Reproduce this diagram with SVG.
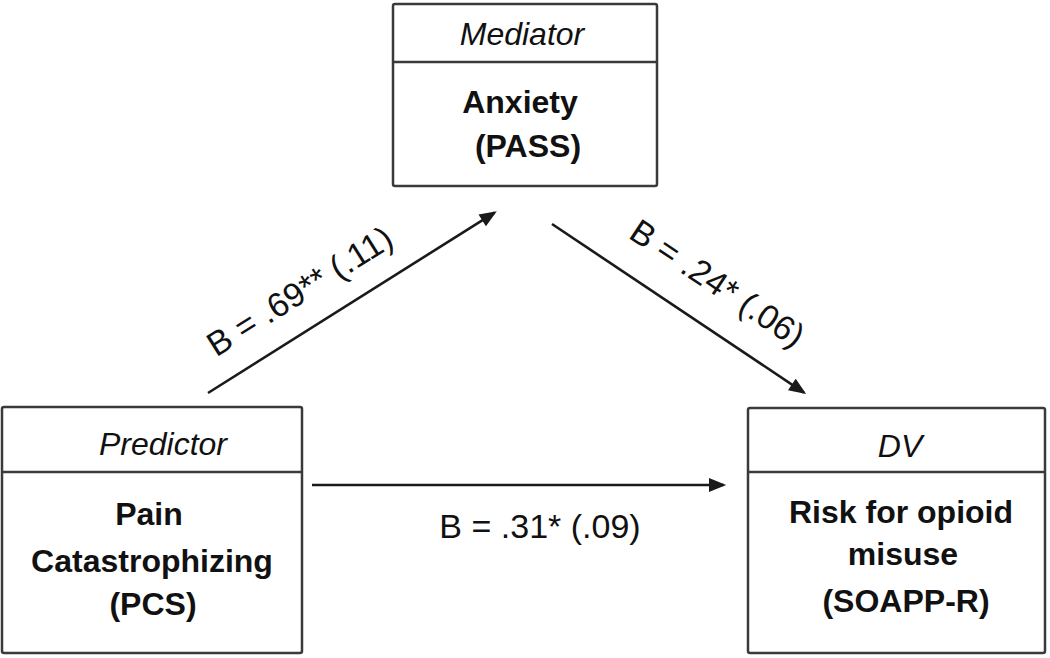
<svg xmlns="http://www.w3.org/2000/svg" width="1050" height="658" viewBox="0 0 1050 658">
  <style>
    .box { fill: #ffffff; stroke: #3a3a3a; stroke-width: 2.5; }
    .div { stroke: #3a3a3a; stroke-width: 2.5; }
    .t { font-family: "Liberation Sans", Arial, sans-serif; font-size: 32px; fill: #111111; text-anchor: middle; }
    .lbl { font-size: 34px; }
    .it { font-style: italic; }
    .b { font-weight: bold; }
    .edge { stroke: #1a1a1a; stroke-width: 2.6; fill: none; marker-end: url(#ah); }
  </style>
  <defs>
    <marker id="ah" markerUnits="userSpaceOnUse" markerWidth="18" markerHeight="14" refX="13.5" refY="6.5" orient="auto" viewBox="0 0 16 13">
      <path d="M0,0 L16,6.5 L0,13 Z" fill="#1a1a1a"/>
    </marker>
  </defs>
  <rect width="1050" height="658" fill="#ffffff"/>

  <g id="connectors">
    <line class="edge" x1="208" y1="393" x2="494.5" y2="212.6"/>
    <line class="edge" x1="552" y1="224" x2="803.9" y2="392.6"/>
    <line class="edge" x1="312" y1="485" x2="723.5" y2="485"/>
    <text class="t lbl" x="306" y="301" transform="rotate(-32.2 306 301)">B = .69** (.11)</text>
    <text class="t lbl" x="711" y="293" transform="rotate(33.7 711 293)">B = .24* (.06)</text>
    <text class="t lbl" x="540" y="538">B = .31* (.09)</text>
  </g>

  <g id="mediator">
    <rect class="box" x="393" y="4" width="264" height="182" rx="2"/>
    <line class="div" x1="393" y1="62" x2="657" y2="62"/>
    <text class="t it" x="522" y="45">Mediator</text>
    <text class="t b" x="520" y="113">Anxiety</text>
    <text class="t b" x="528" y="157">(PASS)</text>
  </g>

  <g id="predictor">
    <rect class="box" x="2" y="407" width="300" height="246" rx="2"/>
    <line class="div" x1="2" y1="472" x2="302" y2="472"/>
    <text class="t it" x="163" y="455">Predictor</text>
    <text class="t b" x="149" y="525">Pain</text>
    <text class="t b" x="152" y="572">Catastrophizing</text>
    <text class="t b" x="153" y="615">(PCS)</text>
  </g>

  <g id="dv">
    <rect class="box" x="748" y="408" width="297" height="245" rx="2"/>
    <line class="div" x1="748" y1="472" x2="1045" y2="472"/>
    <text class="t it" x="900" y="457">DV</text>
    <text class="t b" x="901" y="523">Risk for opioid</text>
    <text class="t b" x="903" y="565">misuse</text>
    <text class="t b" x="906" y="612">(SOAPP-R)</text>
  </g>
</svg>
